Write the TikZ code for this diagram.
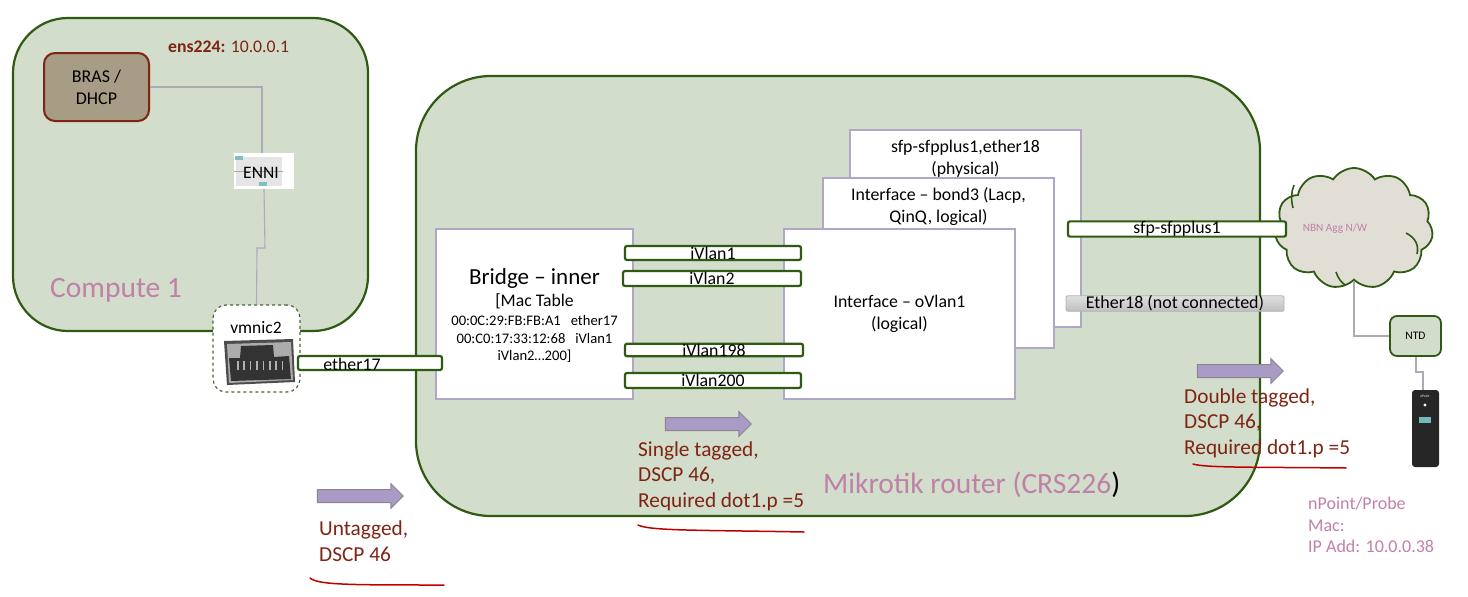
\documentclass[tikz,border=0pt]{standalone}
\usepackage{fontspec}
\setmainfont{Carlito}
\usepackage{xcolor}
\usetikzlibrary{positioning, shapes.symbols, shapes.arrows, calc}

\definecolor{hostfill}{HTML}{D3DDCB}
\definecolor{hostline}{HTML}{2F5A12}
\definecolor{brasfill}{HTML}{A79C85}
\definecolor{rustred}{HTML}{7F2412}
\definecolor{lilac}{HTML}{A99AC6}
\definecolor{lilacline}{HTML}{B0A6C8}
\definecolor{pinktext}{HTML}{C081A8}
\definecolor{wiregray}{HTML}{ABABB8}
\definecolor{cloudfill}{HTML}{E1DED6}

\newcommand{\fs}[2]{\fontsize{#1}{#2}\selectfont}

\tikzset{
    hostbox/.style={draw=hostline, line width=2.2pt, fill=hostfill, inner sep=0pt},
    layerbox/.style={draw=lilacline, line width=2pt, fill=white, inner sep=0pt, align=center},
    portbar/.style={draw=hostline, line width=2.2pt, fill=white, rounded corners=2pt, inner sep=0pt, font=\fs{17.8}{17.8}},
    wire/.style={draw=wiregray, line width=1.1pt},
    flowarrow/.style={single arrow, draw=gray!75!lilac, line width=1pt, fill=lilac, inner xsep=0pt, inner ysep=6pt,
        minimum width=24pt, minimum height=86pt, single arrow head extend=6pt, single arrow head indent=0pt},
    tagnote/.style={anchor=west, align=left, text=rustred, inner sep=0pt, font=\fs{21.3}{25.5}},
    scribble/.style={draw=red!75!black, line width=1.5pt, line cap=round},
    pinknote/.style={text=pinktext, inner sep=0pt}
}

\begin{document}
\begin{tikzpicture}[x=1pt, y=-1pt]
    \useasboundingbox (0,0) rectangle (1468,597);

    % hosts
    \node[hostbox, rounded corners=55pt, minimum width=355pt, minimum height=313pt] (compute) at (190.5,174.5) {};
    \node[hostbox, rounded corners=75pt, minimum width=844pt, minimum height=440pt] (router) at (838,296) {};
    \node[pinknote, anchor=west, font=\fs{29.5}{29.5}] (computelabel) at (50,290) {Compute 1};
    \node[pinknote, anchor=west, font=\fs{29.5}{29.5}] (routerlabel) at (823,485) {Mikrotik router (CRS226{\color{black})}};

    % compute 1 contents
    \node[anchor=west, inner sep=0pt, text=rustred, font=\fs{17.7}{17.7}] (enslabel) at (168,47) {\textbf{ens224:} 10.0.0.1};
    \node[draw=rustred, line width=2pt, fill=brasfill, rounded corners=11pt, minimum width=105pt, minimum height=68pt,
        inner sep=0pt, align=center, font=\fs{18}{22}] (bras) at (96.5,87) {BRAS /\\DHCP};
    \node[fill=white, minimum width=60pt, minimum height=36pt, inner sep=0pt] (enni) at (264,171) {};
    \fill[gray!20] (236,157) rectangle (282,186);
    \draw[gray!70, line width=1pt] (234,171) -- (283,171);
    \fill[teal!50] (235,156) rectangle (243,160);
    \fill[teal!50] (259,182) rectangle (267,186);
    \node[inner sep=0pt, font=\fs{17.5}{17.5}] (ennilabel) at (261,173) {ENNI};

    \node[draw=hostline!70!gray, dashed, line width=1.2pt, fill=white, rounded corners=13pt, minimum width=87pt, minimum height=87pt,
        inner sep=0pt] (vmnic) at (256.5,348.5) {};
    \node[inner sep=0pt, font=\fs{17.5}{17.5}] (vmniclabel) at (256,328) {vmnic2};
    % rj45 port
    \fill[black!70] (224,341) -- (293,339) -- (295,382) -- (227,385) -- cycle;
    \fill[gray!65] (227,344) -- (291,342) -- (293,380) -- (229,383) -- cycle;
    \fill[black!80] (229,358) -- (240,358) -- (241,346) -- (273,345) -- (274,357) -- (289,356) -- (291,379) -- (231,381) -- cycle;
    \foreach \k in {0,...,7}
        \fill[gray!60] ({237+\k*6.4},361) rectangle ++(1.5,9);

    \draw[wire] (bras.east) -| (enni.north -| 262,0);
    \draw[wire] (enni.south) -- (265,248) -- (257,248) -- (vmnic.north);

    % router layers
    \node[layerbox, minimum width=231pt, minimum height=197pt] (physical) at (965.5,228.5) {};
    \node[inner sep=0pt, align=center, font=\fs{17.8}{22}] (physicallabel) at (965.5,159) {sfp-sfpplus1,ether18\\(physical)};
    \node[layerbox, minimum width=231pt, minimum height=170pt] (bond) at (938.5,263) {};
    \node[inner sep=0pt, align=center, font=\fs{17.8}{22}] (bondlabel) at (938.5,207) {Interface – bond3 (Lacp,\\QinQ, logical)};
    \node[layerbox, minimum width=231pt, minimum height=170pt, font=\fs{17.8}{22}] (ovlan) at (899.5,314) {Interface – oVlan1\\(logical)};
    \node[layerbox, minimum width=197pt, minimum height=170pt] (bridge) at (534.5,314) {};
    \node[inner sep=0pt, align=center, font=\fs{14.6}{17}] (bridgelabel) at (534.5,316)
        {{\fs{23}{17}Bridge – inner}\\[5pt]
         {\fs{17.7}{17}[Mac Table}\\[2pt]
         00:0C:29:FB:FB:A1\ \ \ ether17\\[1pt]
         00:C0:17:33:12:68\ \ \ iVlan1\\
         iVlan2…200]};

    % port bars
    \node[portbar, minimum width=144pt, minimum height=14pt] (ether) at (370,363) {};
    \node[inner sep=0pt, font=\fs{17.8}{17.8}] (etherlabel) at (352,364) {ether17};
    \node[portbar, minimum width=176pt, minimum height=14pt] (ivlana) at (713,253) {iVlan1};
    \node[portbar, minimum width=178pt, minimum height=15pt] (ivlanb) at (712,278.5) {iVlan2};
    \node[portbar, minimum width=178pt, minimum height=12pt] (ivlanc) at (714,350) {iVlan198};
    \node[portbar, minimum width=176pt, minimum height=15pt] (ivland) at (713,380.5) {iVlan200};

    % cloud and probe side
    \node[cloud, cloud puffs=11, cloud puff arc=115, aspect=1.3, draw=hostline, line width=1.8pt, fill=cloudfill,
        minimum width=158pt, minimum height=121pt, inner sep=0pt] (nbn) at (1354,228.5) {};
    \draw[draw=hostline, line width=1.6pt] (1406,233) .. controls (1416,238) and (1419,246) .. (1417,254);
    \draw[draw=hostline, line width=1.6pt] (1336,272) .. controls (1338,278) and (1341,282) .. (1345,285);
    \draw[draw=hostline, line width=1.6pt] (1294,185) .. controls (1291,192) and (1291,200) .. (1293,208);
    \node[portbar, minimum width=218pt, minimum height=14pt] (sfpbar) at (1177,229) {sfp-sfpplus1};
    \node[draw=gray!60, line width=.8pt, top color=gray!25, bottom color=gray!50, rounded corners=2pt, inner sep=0pt,
        minimum width=218pt, minimum height=15pt, font=\fs{18}{18}] (etherbar) at (1175,303.5) {Ether18 (not connected)};
    \node[pinknote, font=\fs{11.2}{11.2}] (nbnlabel) at (1335,229) {NBN Agg N/W};
    \node[draw=hostline, line width=1.8pt, fill=hostfill, rounded corners=7pt, minimum width=51pt, minimum height=40pt,
        inner sep=0pt, font=\fs{11.5}{11.5}] (ntd) at (1415.5,336) {NTD};
    \node[fill=black!85, rounded corners=3pt, minimum width=27pt, minimum height=77pt, inner sep=0pt] (probe) at (1425.5,428.5) {};
    \fill[teal!55] (1419,417) rectangle (1431,423);
    \fill[white] (1425,405) circle (1.6pt);
    \node[text=white, inner sep=0pt, font=\fs{3.5}{3.5}] (probelabel) at (1425,396) {nPoint};

    \draw[wire] (nbn.south) |- (ntd.west);
    \draw[wire] (ntd.south -| 1416,0) -- (1416,372) -- (1423,372) -- (probe.north -| 1423,0);

    % traffic notes
    \node[flowarrow] (untagarrow) at (357,496) {};
    \node[flowarrow] (singlearrow) at (705,424) {};
    \node[flowarrow] (doublearrow) at (1237,371) {};
    \node[tagnote] (untagnote) at (319,541) {Untagged,\\DSCP 46};
    \node[tagnote] (singlenote) at (638,476) {Single tagged,\\DSCP 46,\\Required dot1.p =5};
    \node[tagnote] (doublenote) at (1184,423) {Double tagged,\\DSCP 46,\\Required dot1.p =5};
    \draw[scribble] (310,578) .. controls (318,585) and (350,585) .. (444,585);
    \draw[scribble] (638,525) .. controls (650,531) and (700,530) .. (804,532);
    \draw[scribble] (1193,464) .. controls (1205,468) and (1260,467) .. (1346,468);

    \node[pinknote, anchor=west, align=left, font=\fs{18}{21.5}] (probenote) at (1308,525) {nPoint/Probe\\Mac:\\IP Add: 10.0.0.38};
\end{tikzpicture}
\end{document}
